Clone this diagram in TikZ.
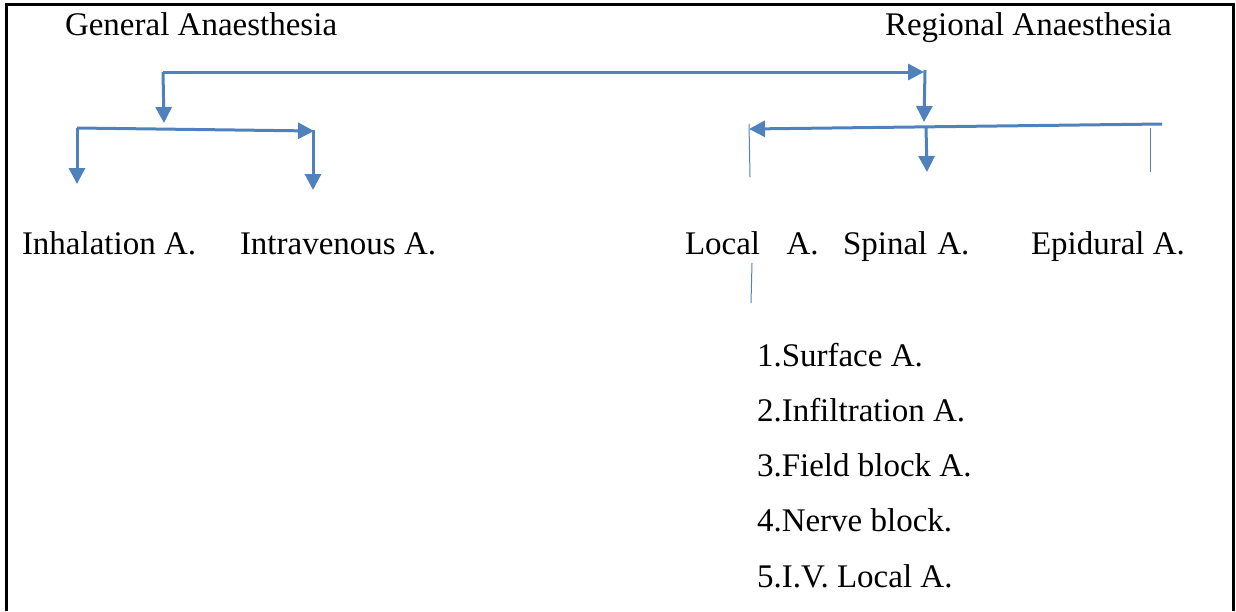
\documentclass[tikz,border=0pt]{standalone}
\usepackage{fontspec}
\setmainfont{Liberation Serif}
\usetikzlibrary{arrows.meta}
\definecolor{linkblue}{HTML}{4F81BD}
\begin{document}
\begin{tikzpicture}[x=0.5pt,y=-0.5pt,
  label/.style={anchor=base west,inner sep=0pt,outer sep=0pt,
    font=\fontsize{16.5}{20}\selectfont},
  conn/.style={draw=linkblue,line width=1.5pt,
    -{Triangle[length=8pt,width=8pt]}},
  tick/.style={draw=linkblue,line width=0.5pt}]
\useasboundingbox (0,0) rectangle (1236,611);
% frame, open at the bottom
\draw[line width=1.5pt] (6.5,611) -- (6.5,4.5) -- (1233.5,4.5) -- (1233.5,611);

% headings
\node[label] (ga) at (65,35) {General Anaesthesia};
\node[label] (ra) at (885,35) {Regional Anaesthesia};

% second row
\node[label] (inh) at (22,254) {Inhalation A.};
\node[label] (iv)  at (240,254) {Intravenous A.};
\node[label] (loc) at (685,254) {Local\hspace{0.8em}A.};
\node[label] (spi) at (843,254) {Spinal\hspace{0.3em}A.};
\node[label] (epi) at (1031,254) {Epidural A.};

% kinds of local anaesthesia
\node[label] (k1) at (757,366) {1.Surface A.};
\node[label] (k2) at (757,421) {2.Infiltration A.};
\node[label] (k3) at (757,476) {3.Field block A.};
\node[label] (k4) at (757,531) {4.Nerve block.};
\node[label] (k5) at (757,587) {5.I.V. Local A.};

% junction points of the connector tree
\coordinate (top0) at (163,72);
\coordinate (top1) at (924,72);
\coordinate (gdown) at (164,123);
\coordinate (rtop) at (925,70);
\coordinate (rdown) at (924,122);

\coordinate (gl0) at (77,128);
\coordinate (gl1) at (314,131);
\coordinate (inhT) at (77,184);
\coordinate (ivS) at (313,130);
\coordinate (ivT) at (313,190);

\coordinate (rl0) at (1162,124);
\coordinate (rl1) at (749,129);
\coordinate (spS) at (926,127);
\coordinate (spT) at (927,172);

\coordinate (locA) at (749,124);
\coordinate (locB) at (750,177);
\coordinate (epiA) at (1150,128);
\coordinate (epiB) at (1150,172);
\coordinate (subA) at (752,263);
\coordinate (subB) at (751,303);

% top level
\draw[conn] (top0) -- (top1);
\draw[conn] (top0) -- (gdown);
\draw[conn] (rtop) -- (rdown);

% general anaesthesia branches
\draw[conn] (gl0) -- (gl1);
\draw[conn] (gl0) -- (inhT);
\draw[conn] (ivS) -- (ivT);

% regional anaesthesia branches
\draw[conn] (rl0) -- (rl1);
\draw[conn] (spS) -- (spT);
\draw[tick] (locA) -- (locB);
\draw[tick] (epiA) -- (epiB);
\draw[tick] (subA) -- (subB);
\end{tikzpicture}
\end{document}
